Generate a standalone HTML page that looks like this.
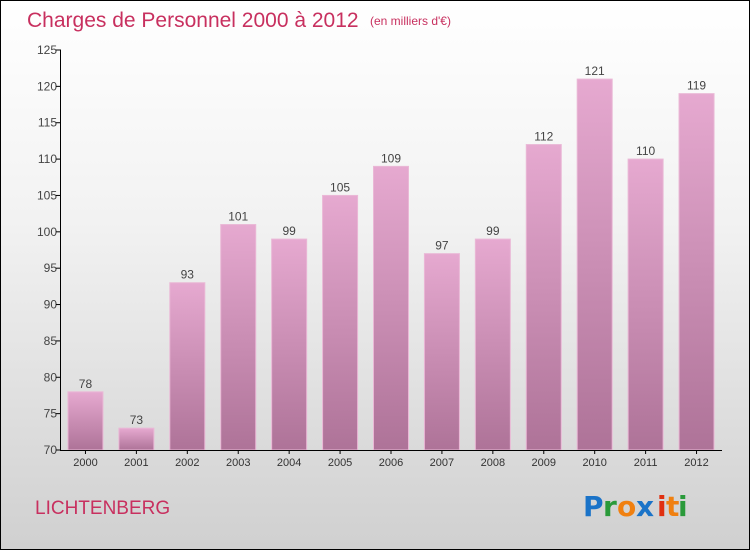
<!DOCTYPE html>
<html><head><meta charset="utf-8"><style>
body{margin:0}
#c{width:748px;height:548px;border:1px solid #000;background:linear-gradient(#ffffff,#f2f2f2 40%,#d0d0d0);position:relative;font-family:"Liberation Sans",sans-serif}
</style></head><body>
<div id="c">
<svg width="748" height="548" viewBox="1 1 748 548" style="position:absolute;left:0;top:0" id="svg">
<defs><linearGradient id="g" x1="0" y1="0" x2="0" y2="1"><stop offset="0" stop-color="#e6a9d0"/><stop offset="1" stop-color="#ae7398"/></linearGradient></defs>
<text x="27" y="27" font-size="21" fill="#c8305f">Charges de Personnel 2000 à 2012</text>
<text x="370" y="25" font-size="12" fill="#c8305f">(en milliers d'€)</text>
<text x="35" y="514" font-size="19" fill="#c8305f">LICHTENBERG</text>
<g font-size="28" font-weight="bold" font-family="'DejaVu Sans',sans-serif">
<text x="583" y="516" fill="#1a73c8">P</text><text x="603" y="516" fill="#2a9a3a">r</text><text x="617" y="516" fill="#f08010">o</text><text x="636" y="516" fill="#1a73c8">x</text><text x="657" y="516" fill="#e03010">i</text><text x="666" y="516" fill="#f08010">t</text><text x="678" y="516" fill="#2a9a3a">i</text></g>
<g id="plot"></g>
</svg>
</div>
<script>
const categories=["2000","2001","2002","2003","2004","2005","2006","2007","2008","2009","2010","2011","2012"];
const values=[78,73,93,101,99,105,109,97,99,112,121,110,119];
const yTicks=[70,75,80,85,90,95,100,105,110,115,120,125];
const x0=60,x1=722,yB=450,yT=50,yMin=70,yMax=125;
const y=v=>yB-(v-yMin)/(yMax-yMin)*(yB-yT);
const step=(x1-x0)/categories.length;
const xc=i=>x0+step*(i+0.5);
const ns="http://www.w3.org/2000/svg",p=document.getElementById('plot');
function mk(t,a,txt){const e=document.createElementNS(ns,t);for(const k in a)e.setAttribute(k,a[k]);if(txt!=null)e.textContent=txt;p.appendChild(e);return e;}
values.forEach((v,i)=>{
const r=mk('rect',{x:xc(i)-17.5,y:y(v),width:35,height:yB-y(v),fill:'url(#g)',stroke:'#eab8d6','stroke-width':1});


const t=mk('text',{x:xc(i),y:y(v)-4,'text-anchor':'middle','font-size':12,fill:'#444'},v);


const l=mk('text',{x:xc(i),y:466,'text-anchor':'middle','font-size':11,fill:'#333'},categories[i]);


const tk=mk('line',{x1:xc(i),x2:xc(i),y1:yB,y2:yB+4,stroke:'#000'});


});
yTicks.forEach(v=>{
const t=mk('text',{x:57,y:y(v)+4,'text-anchor':'end','font-size':12,fill:'#444'},v);


const l=mk('line',{x1:56,x2:61,y1:y(v),y2:y(v),stroke:'#000'});


});
const ya=mk('line',{x1:60.5,x2:60.5,y1:yT,y2:yB,stroke:'#000'});


const xa=mk('line',{x1:60,x2:x1,y1:yB+0.5,y2:yB+0.5,stroke:'#000'});


</script>
</body></html>
